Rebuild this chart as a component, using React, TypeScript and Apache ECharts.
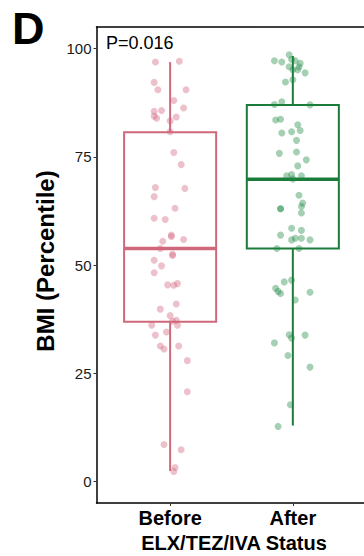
import React, { useEffect, useRef } from "react";
import * as echarts from "echarts";

const categories = ["Before", "After"];
const groupColors = ["#D0687C", "#1B7C3A"];
const pointColors = ["rgba(209,100,124,0.5)", "rgba(29,138,68,0.5)"];

// box stats: [lowerWhisker, Q1, median, Q3, upperWhisker]
const boxBefore = [2.4, 36.9, 53.8, 80.7, 96.9];
const boxAfter = [12.9, 53.8, 69.8, 87.0, 98.3];

// jittered points: [x offset from category centre (category units), BMI percentile]
const pointsBefore: [number, number][] = [
  [-0.12, 96.9], [0.075, 97.1], [-0.13, 92.2], [-0.1, 90.5], [0.13, 90.5],
  [0.03, 88.0], [0.11, 86.3], [-0.13, 85.5], [-0.07, 85.7], [-0.13, 84.4],
  [-0.11, 83.9], [0.05, 84.2], [0.0, 83.3], [0.0, 80.8], [0.03, 76.0],
  [0.09, 73.2], [-0.12, 67.9], [0.12, 67.7], [-0.13, 65.8], [0.04, 63.1],
  [-0.13, 60.8], [-0.04, 60.5], [0.01, 56.9], [0.01, 56.6], [-0.06, 55.5],
  [0.11, 55.9], [-0.08, 53.8], [0.02, 52.5], [0.02, 52.2], [-0.13, 51.1],
  [-0.07, 49.8], [-0.13, 48.2], [-0.02, 45.4], [0.03, 45.3], [0.06, 45.7],
  [0.05, 41.0], [-0.08, 39.8], [0.0, 38.3], [0.05, 37.2], [-0.15, 36.1],
  [0.02, 37.0], [0.06, 36.1], [-0.03, 34.5], [-0.12, 33.8], [-0.08, 31.3],
  [-0.05, 30.6], [0.07, 31.3], [0.14, 27.9], [0.14, 20.7], [-0.05, 8.5],
  [0.09, 7.3], [0.04, 3.2], [0.03, 2.3],
];
const pointsAfter: [number, number][] = [
  [-0.03, 98.6], [-0.15, 97.2], [-0.09, 96.9], [-0.01, 97.5], [0.02, 97.2],
  [0.06, 96.6], [-0.03, 95.8], [0.0, 95.1], [0.04, 95.1], [0.05, 95.8],
  [0.1, 94.4], [0.0, 92.8], [-0.06, 92.3], [-0.15, 87.1], [-0.09, 87.7],
  [0.14, 87.0], [-0.14, 83.5], [-0.1, 83.7], [0.04, 82.4], [-0.09, 80.5],
  [-0.01, 80.8], [0.06, 81.1], [0.03, 78.8], [-0.11, 75.8], [0.03, 76.1],
  [0.11, 74.3], [0.04, 72.9], [-0.05, 70.6], [-0.01, 70.9], [0.0, 69.9],
  [0.07, 70.6], [0.05, 66.1], [0.08, 64.3], [0.07, 63.5], [-0.1, 63.0],
  [-0.1, 63.0], [0.07, 62.0], [-0.01, 58.5], [0.07, 58.0], [-0.1, 56.9],
  [-0.01, 55.8], [0.02, 56.2], [0.07, 56.2], [0.14, 55.8], [-0.13, 53.8],
  [0.05, 53.8], [-0.07, 46.1], [-0.01, 46.5], [-0.14, 44.6], [-0.12, 43.9],
  [-0.1, 43.4], [0.14, 43.7], [0.02, 41.9], [-0.03, 33.9], [0.1, 33.8],
  [-0.01, 33.1], [-0.15, 32.0], [-0.04, 29.1], [0.14, 26.4], [-0.02, 17.7],
  [-0.12, 12.7],
];
const yTicks = [0, 25, 50, 75, 100];
const xTickValues = [1, 2];
const pValueText = "P=0.016";
const panelLabel = "D";
const xTitle = "ELX/TEZ/IVA Status";
const yTitle = "BMI (Percentile)";

const FONT = "'Liberation Sans', Arial, Helvetica, sans-serif";

export default function App() {
  const ref = useRef<HTMLDivElement>(null);
  useEffect(() => {
    if (!ref.current) return;
    const chart = echarts.init(ref.current, null, { renderer: "svg" });
    const boxData = [boxBefore, boxAfter].map((b, i) => [i + 1, ...b]);
    const scatterSeries = [pointsBefore, pointsAfter].map((pts, i) => ({
      type: "scatter",
      data: pts.map(([dx, v]) => [i + 1 + dx, v]),
      symbol: "circle",
      symbolSize: 7,
      itemStyle: { color: pointColors[i] },
      silent: true,
      z: 3,
    }));
    chart.setOption({
      animation: false,
      grid: {
        left: 96.5,
        top: 27,
        right: 0,
        bottom: 53,
        outerBoundsMode: "none",
        containLabel: false,
        show: false,
      },
      xAxis: [
        {
          type: "value",
          min: 0.4,
          max: 2.58,
          splitLine: { show: false },
          axisLine: { show: true, onZero: false, lineStyle: { color: "#000", width: 1.5 } },
          axisTick: { show: true, length: 3, customValues: xTickValues, lineStyle: { color: "#333" } },
          axisLabel: {
            customValues: xTickValues,
            formatter: (v: number) => categories[Math.round(v) - 1] ?? "",
            fontFamily: FONT,
            fontSize: 20,
            fontWeight: "bold",
            color: "#000",
            margin: 5,
          },
        },
        {
          type: "value",
          position: "top",
          min: 0.4,
          max: 2.58,
          splitLine: { show: false },
          axisLine: { show: true, onZero: false, lineStyle: { color: "#000", width: 1.5 } },
          axisTick: { show: false },
          axisLabel: { show: false },
        },
      ],
      yAxis: {
        type: "value",
        min: -5,
        max: 105,
        splitLine: { show: false },
        axisLine: { show: true, onZero: false, lineStyle: { color: "#000", width: 1.5 } },
        axisTick: { show: true, length: 3, customValues: yTicks, lineStyle: { color: "#333" } },
        axisLabel: {
          customValues: yTicks,
          fontFamily: FONT,
          fontSize: 15,
          color: "#1a1a1a",
          margin: 5,
        },
      },
      series: [
        {
          type: "custom",
          data: boxData,
          encode: { x: 0, y: [1, 2, 3, 4, 5] },
          z: 2,
          silent: true,
          renderItem: (params: any, api: any) => {
            const x = api.value(0);
            const lo = api.value(1);
            const q1 = api.value(2);
            const med = api.value(3);
            const q3 = api.value(4);
            const hi = api.value(5);
            const color = groupColors[params.dataIndex];
            const half = api.size([0.75, 0])[0] / 2;
            const pHi = api.coord([x, hi]);
            const pQ3 = api.coord([x, q3]);
            const pMed = api.coord([x, med]);
            const pQ1 = api.coord([x, q1]);
            const pLo = api.coord([x, lo]);
            const lineStyle = { stroke: color, lineWidth: 2, fill: "none" };
            return {
              type: "group",
              children: [
                { type: "line", shape: { x1: pHi[0], y1: pHi[1], x2: pQ3[0], y2: pQ3[1] }, style: lineStyle },
                { type: "line", shape: { x1: pQ1[0], y1: pQ1[1], x2: pLo[0], y2: pLo[1] }, style: lineStyle },
                {
                  type: "rect",
                  shape: { x: pQ3[0] - half, y: pQ3[1], width: half * 2, height: pQ1[1] - pQ3[1] },
                  style: { stroke: color, lineWidth: 2, fill: "none" },
                },
                {
                  type: "line",
                  shape: { x1: pMed[0] - half, y1: pMed[1], x2: pMed[0] + half, y2: pMed[1] },
                  style: { stroke: color, lineWidth: 3.5 },
                },
              ],
            };
          },
        },
        ...scatterSeries,
      ],
      graphic: [
        {
          type: "text",
          left: 12,
          top: 6,
          style: { text: panelLabel, font: `bold 45px ${FONT}`, fill: "#000" },
        },
        {
          type: "text",
          x: 106,
          y: 43,
          style: { text: pValueText, font: `18px ${FONT}`, fill: "#000", textVerticalAlign: "middle" },
        },
        {
          type: "text",
          x: 234,
          y: 543,
          style: {
            text: xTitle,
            font: `bold 20px ${FONT}`,
            fill: "#000",
            textAlign: "center",
            textVerticalAlign: "middle",
          },
        },
        {
          type: "text",
          x: 45,
          y: 261,
          rotation: Math.PI / 2,
          style: {
            text: yTitle,
            font: `bold 24px ${FONT}`,
            fill: "#000",
            textAlign: "center",
            textVerticalAlign: "middle",
          },
        },
      ],
    });
    return () => chart.dispose();
  }, []);
  return (
    <div
      ref={ref}
      style={{ position: "absolute", left: 0, top: 0, width: 364, height: 556, background: "#fff" }}
    />
  );
}
